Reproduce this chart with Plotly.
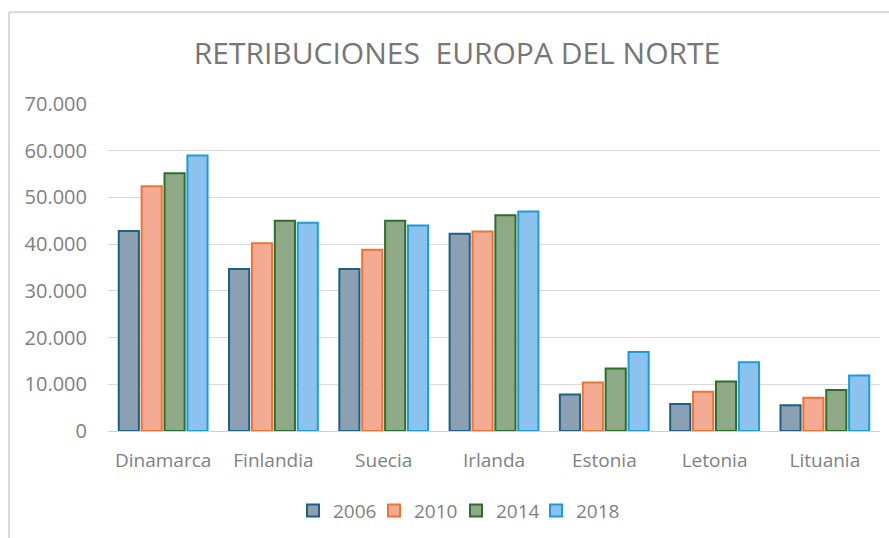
import plotly.graph_objects as go

categories = ["Dinamarca", "Finlandia", "Suecia", "Irlanda", "Estonia", "Letonia", "Lituania"]
years = ["2006", "2010", "2014", "2018"]
v2006 = [42800, 34700, 34700, 42200, 7800, 5800, 5500]
v2010 = [52400, 40200, 38800, 42700, 10400, 8400, 7100]
v2014 = [55200, 45000, 45000, 46200, 13400, 10600, 8800]
v2018 = [59000, 44600, 44000, 47000, 16900, 14700, 11900]
series = [v2006, v2010, v2014, v2018]

fills = ["#8ba0b2", "#f4ab93", "#8fa987", "#8cc3ee"]
lines = ["#1f5f82", "#ec7434", "#2a6f2c", "#1d9ad8"]

font_family = "Open Sans, Liberation Sans, sans-serif"
legend_left_px = [293, 374, 456, 536]

fig = go.Figure()
legends = {}
for i, (name, vals, fc, lc) in enumerate(zip(years, series, fills, lines)):
    key = "legend" if i == 0 else f"legend{i + 1}"
    fig.add_trace(go.Bar(
        x=categories, y=vals, name=name, legend=key,
        marker=dict(color=fc, line=dict(color=lc, width=2)),
    ))
    legends[key] = dict(orientation="h", x=(legend_left_px[i] - 108) / 772, xanchor="left",
                        y=-0.24, yanchor="middle", bgcolor="rgba(0,0,0,0)",
                        font=dict(size=19, color="#7f7f7f"), itemwidth=30)

fig.update_layout(
    width=889, height=538,
    paper_bgcolor="white", plot_bgcolor="white",
    margin=dict(l=108, r=9, t=104, b=106),
    barmode="group", bargap=0.17, bargroupgap=0.12,
    separators=",.",
    title=dict(text="RETRIBUCIONES  EUROPA DEL NORTE", x=0.514, xanchor="center",
               y=1 - 53 / 538, yanchor="middle",
               font=dict(family=font_family, size=30, color="#767676")),
    font=dict(family=font_family, size=19, color="#7f7f7f"),
    showlegend=True,
    xaxis=dict(showline=True, linecolor="#d0d0d0", linewidth=1, ticks="",
               tickfont=dict(size=19, color="#7f7f7f"), ticklabelstandoff=12),
    yaxis=dict(range=[0, 70000], dtick=10000, tickformat=",d", showgrid=True,
               gridcolor="#d9d9d9", gridwidth=1, zeroline=False, showline=False,
               tickfont=dict(size=20, color="#7f7f7f"), ticklabelstandoff=20),
    shapes=[
        dict(type="line", xref="paper", yref="paper",
             x0=(9 - 108) / 772, x1=1.02, y0=(432 - 12) / 328, y1=(432 - 12) / 328,
             line=dict(color="#d9d9d9", width=2)),
        dict(type="line", xref="paper", yref="paper",
             x0=(9 - 108) / 772, x1=(9 - 108) / 772, y0=(432 - 12) / 328, y1=-0.4,
             line=dict(color="#d9d9d9", width=2)),
    ],
    **legends,
)

fig.write_html("out.html", config={"displayModeBar": False},
               post_script="document.body.style.margin='0';")
